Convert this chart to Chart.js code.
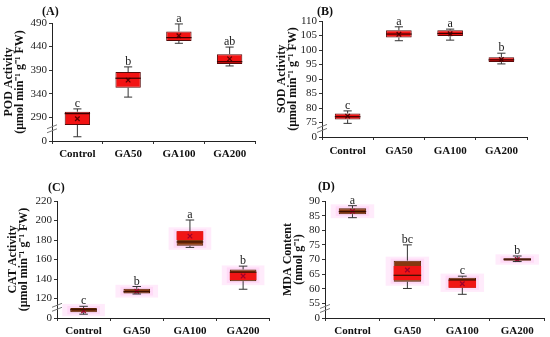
<!DOCTYPE html>
<html><head><meta charset="utf-8">
<script src="https://cdn.jsdelivr.net/npm/chart.js@4.4.1/dist/chart.umd.min.js"></script>
<style>
html,body{margin:0;padding:0;background:#fff;width:550px;height:337px;overflow:hidden;}
.panel{position:absolute;}
.lbl{position:absolute;font:bold 12px 'Liberation Serif',serif;color:#111;line-height:12px;}
</style></head><body>
<div class="panel" style="left:0;top:0;width:275px;height:168px"><canvas id="cA"></canvas></div>
<div class="panel" style="left:275px;top:0;width:275px;height:168px"><canvas id="cB"></canvas></div>
<div class="panel" style="left:0;top:168px;width:275px;height:169px"><canvas id="cC"></canvas></div>
<div class="panel" style="left:275px;top:168px;width:275px;height:169px"><canvas id="cD"></canvas></div>
<div class="lbl" style="left:42px;top:5px">(A)</div>
<div class="lbl" style="left:317px;top:5px">(B)</div>
<div class="lbl" style="left:48px;top:181px">(C)</div>
<div class="lbl" style="left:318px;top:180px">(D)</div>
<script>
const categories = ['Control', 'GA50', 'GA100', 'GA200'];

// (A) POD activity
const podMin    = [249, 333, 447, 399];
const podQ1     = [274, 353, 452, 403];
const podMedian = [298, 373, 459, 408];
const podQ3     = [302, 386, 472, 424];
const podMax    = [308, 397, 488, 439];
const podMean   = [287, 369, 463, 414];
const podLetters = ['c', 'b', 'a', 'ab'];
const podTicks = {min: 240, max: 490, step: 50};

// (B) SOD activity
const sodMin    = [74.7, 103.2, 103.4, 95.2];
const sodQ1     = [76.0, 104.3, 104.8, 95.9];
const sodMedian = [77.0, 105.5, 105.7, 96.6];
const sodQ3     = [78.1, 106.8, 106.8, 97.5];
const sodMax    = [79.0, 108.0, 107.2, 98.9];
const sodMean   = [77.2, 105.4, 105.6, 96.7];
const sodLetters = ['c', 'a', 'a', 'b'];
const sodTicks = {min: 70, max: 110, step: 5};

// (C) CAT activity
const catMin    = [103.9, 124.6, 172.4, 129.5];
const catQ1     = [105.9, 125.1, 174.1, 137.8];
const catMedian = [108.5, 127.0, 178.0, 147.0];
const catQ3     = [110.3, 129.9, 188.9, 149.8];
const catMax    = [112.0, 132.3, 200.5, 153.2];
const catMean   = [107.3, 127.5, 184.0, 143.0];
const catRedLo  = [null, null, 180.0, 139.0];
const catRedHi  = [null, null, 188.9, 147.0];
const catLetters = ['c', 'b', 'a', 'b'];
const catTicks = {min: 100, max: 220, step: 20};

// (D) MDA content
const mdaMin    = [84.3, 60.1, 58.1, 69.3];
const mdaQ1     = [85.5, 62.4, 60.3, 69.6];
const mdaMedian = [86.4, 64.6, 63.0, 70.1];
const mdaQ3     = [87.5, 69.6, 63.8, 70.4];
const mdaMax    = [88.4, 75.0, 64.3, 71.2];
const mdaMean   = [86.5, 66.4, 61.7, 70.0];
const mdaRedLo  = [null, 63.0, 60.3, null];
const mdaRedHi  = [null, 67.8, 63.0, null];
const mdaLetters = ['a', 'bc', 'c', 'b'];
const mdaTicks = {min: 50, max: 90, step: 5};

const SERIF = "'Liberation Serif', 'Times New Roman', serif";

const boxPlugin = {
  id: 'boxExtras',
  beforeDatasetsDraw(chart) {
    const p = chart.options.plugins.boxExtras;
    if (!p.halo) return;
    const ctx = chart.ctx, y = chart.scales.y;
    const meta = chart.getDatasetMeta(p.boxIndex);
    ctx.save();
    meta.data.forEach((bar, i) => {
      const w = bar.width;
      const top = y.getPixelForValue(p.q3[i]), bot = y.getPixelForValue(p.q1[i]);
      ctx.fillStyle = 'rgba(255,215,248,0.5)';
      ctx.fillRect(bar.x - w / 2 - 8, top - 4, w + 16, bot - top + 8);
      ctx.fillStyle = 'rgba(255,180,240,0.3)';
      ctx.fillRect(bar.x - w / 2 - 3, top - 2, w + 6, bot - top + 4);
    });
    ctx.restore();
  },
  afterDatasetsDraw(chart) {
    const p = chart.options.plugins.boxExtras;
    const ctx = chart.ctx, y = chart.scales.y;
    const meta = chart.getDatasetMeta(p.boxIndex);
    ctx.save();
    meta.data.forEach((bar, i) => {
      const w = bar.width, cx = bar.x;
      const pMin = y.getPixelForValue(p.min[i]), pMax = y.getPixelForValue(p.max[i]);
      const pQ1 = y.getPixelForValue(p.q1[i]), pQ3 = y.getPixelForValue(p.q3[i]);
      const pMed = y.getPixelForValue(p.median[i]);
      const cap = w * 0.16;
      ctx.strokeStyle = '#333';
      ctx.lineWidth = 1;
      ctx.beginPath();
      ctx.moveTo(cx, pQ3); ctx.lineTo(cx, pMax);
      ctx.moveTo(cx, pQ1); ctx.lineTo(cx, pMin);
      ctx.moveTo(cx - cap, pMax); ctx.lineTo(cx + cap, pMax);
      ctx.moveTo(cx - cap, pMin); ctx.lineTo(cx + cap, pMin);
      ctx.stroke();
      ctx.strokeStyle = p.medianColor;
      ctx.lineWidth = 1.2;
      ctx.beginPath();
      ctx.moveTo(cx - w / 2, pMed); ctx.lineTo(cx + w / 2, pMed);
      ctx.stroke();
      ctx.fillStyle = '#222';
      ctx.font = '12px ' + SERIF;
      ctx.textAlign = 'center';
      ctx.textBaseline = 'alphabetic';
      ctx.fillText(p.letters[i], cx, pMax - 2);
    });
    // axis break marks
    const ax = chart.scales.y.right;
    const pb = y.getPixelForValue(p.breakAt);
    ctx.strokeStyle = '#777';
    ctx.lineWidth = 1;
    ctx.beginPath();
    ctx.moveTo(ax - 5, pb + 1); ctx.lineTo(ax + 5, pb - 3);
    ctx.moveTo(ax - 5, pb + 5); ctx.lineTo(ax + 5, pb + 1);
    ctx.stroke();
    ctx.restore();
  }
};

function makePanel(id, o) {
  const datasets = [];
  datasets.push({
    type: 'line', data: o.mean, showLine: false,
    pointStyle: 'crossRot', pointRadius: 3.2, pointBorderWidth: 1.3,
    pointBorderColor: o.meanColor, pointBackgroundColor: o.meanColor, order: 0
  });
  if (o.redLo) {
    datasets.push({
      type: 'bar', data: o.redLo.map((v, i) => v === null ? null : [v, o.redHi[i]]),
      backgroundColor: '#f01515', borderWidth: 0, grouped: false,
      barPercentage: 0.5, categoryPercentage: 1, order: 1
    });
  }
  datasets.push({
    type: 'bar', data: o.q1.map((v, i) => [v, o.q3[i]]),
    backgroundColor: o.boxColor, borderColor: o.boxBorder, borderWidth: 1,
    borderSkipped: false, grouped: false,
    barPercentage: 0.5, categoryPercentage: 1, order: 2
  });
  const boxIndex = datasets.length - 1;
  new Chart(document.getElementById(id), {
    type: 'bar',
    data: {labels: categories, datasets},
    options: {
      responsive: true, maintainAspectRatio: false, animation: false,
      layout: {padding: {top: o.padTop, right: o.padRight, left: 0, bottom: 0}},
      plugins: {
        legend: {display: false}, tooltip: {enabled: false},
        boxExtras: {
          boxIndex, min: o.min, q1: o.q1, median: o.median, q3: o.q3, max: o.max,
          letters: o.letters, halo: o.halo, breakAt: o.breakAt, medianColor: o.medianColor
        }
      },
      scales: {
        x: {
          offset: true,
          grid: {display: true, drawOnChartArea: false, drawTicks: true, tickLength: 3, color: '#333', offset: true},
          border: {display: true, color: '#222', width: 1},
          ticks: {color: '#111', font: {family: SERIF, size: 11, weight: 'bold'}, padding: o.xPad, autoSkip: false, maxRotation: 0},
          afterFit: s => { s.height = o.xHeight; }
        },
        y: {
          min: o.ticks.min, max: o.ticks.max,
          grid: {display: true, drawOnChartArea: false, drawTicks: true, tickLength: 3, color: '#333'},
          border: {display: true, color: '#222', width: 1},
          ticks: {
            stepSize: o.ticks.step, color: '#222', padding: 2, autoSkip: false,
            font: {family: SERIF, size: 11},
            callback: v => (v === o.ticks.min ? '0' : v)
          },
          title: {
            display: true, text: o.title, color: '#111',
            font: {family: SERIF, size: 12, weight: 'bold', lineHeight: 0.88},
            padding: {top: o.titlePad, bottom: 0}
          },
          afterFit: s => { s.width = o.yWidth; }
        }
      }
    },
    plugins: [boxPlugin]
  });
}

const unitTitle = '(\u03bcmol min\u207b\u00b9 g\u207b\u00b9 FW)';

makePanel('cA', {
  min: podMin, q1: podQ1, median: podMedian, q3: podQ3, max: podMax, mean: podMean,
  letters: podLetters, ticks: podTicks, title: ['POD Activity', unitTitle],
  boxColor: '#f21212', boxBorder: '#5a0a0a', medianColor: '#3a0000', meanColor: '#5a0000',
  halo: false, breakAt: 268,
  yWidth: 52, xHeight: 27, padTop: 23, padRight: 20, xPad: 4, titlePad: 4
});
makePanel('cB', {
  min: sodMin, q1: sodQ1, median: sodMedian, q3: sodQ3, max: sodMax, mean: sodMean,
  letters: sodLetters, ticks: sodTicks, title: ['SOD Activity', unitTitle],
  boxColor: '#f21212', boxBorder: '#5a0a0a', medianColor: '#3a0000', meanColor: '#5a0000',
  halo: false, breakAt: 73.3,
  yWidth: 47, xHeight: 31, padTop: 21, padRight: 23, xPad: 5, titlePad: 2
});
makePanel('cC', {
  min: catMin, q1: catQ1, median: catMedian, q3: catQ3, max: catMax, mean: catMean,
  redLo: catRedLo, redHi: catRedHi,
  letters: catLetters, ticks: catTicks, title: ['CAT Activity', unitTitle],
  boxColor: '#86380f', boxBorder: '#5a2000', medianColor: '#3a1000', meanColor: '#a0002a',
  halo: true, breakAt: 112,
  yWidth: 57, xHeight: 19, padTop: 33, padRight: 3, xPad: 4, titlePad: 8
});
makePanel('cD', {
  min: mdaMin, q1: mdaQ1, median: mdaMedian, q3: mdaQ3, max: mdaMax, mean: mdaMean,
  redLo: mdaRedLo, redHi: mdaRedHi,
  letters: mdaLetters, ticks: mdaTicks, title: ['MDA Content', '(nmol g\u207b\u00b9)'],
  boxColor: '#86380f', boxBorder: '#5a2000', medianColor: '#3a1000', meanColor: '#a0002a',
  halo: true, breakAt: 53.6,
  yWidth: 50, xHeight: 19, padTop: 33, padRight: 4, xPad: 4, titlePad: 8
});
</script>
</body></html>
